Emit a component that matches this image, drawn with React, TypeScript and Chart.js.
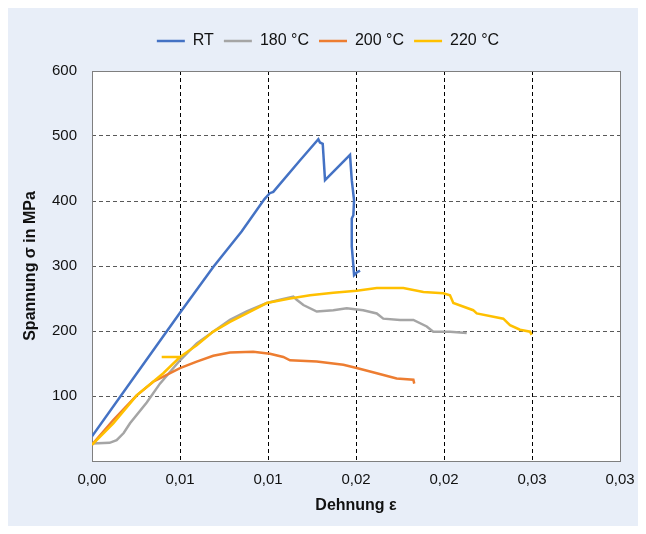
import React, { useEffect, useRef } from "react";
import { Chart, registerables } from "chart.js";

Chart.register(...registerables);

// ---- data (strain ε, stress σ in MPa) ----
const rtStrain = [0, 0.0025, 0.005, 0.0069, 0.0085, 0.0098, 0.0101, 0.0103, 0.0118, 0.01286, 0.01295, 0.01311, 0.01324, 0.01466, 0.01476, 0.01489, 0.01485, 0.01476, 0.01476, 0.01485, 0.01489, 0.01504, 0.01523];
const rtStress = [38, 133, 228, 299, 353, 403, 412, 414, 462, 495, 490, 488, 432, 471, 432, 401, 378, 373, 330, 301, 286, 290, 293];

const t180Strain = [0, 0.001, 0.0014, 0.0018, 0.00216, 0.00311, 0.00386, 0.005, 0.00595, 0.00688, 0.00784, 0.00879, 0.00993, 0.01068, 0.01144, 0.01163, 0.01201, 0.01277, 0.01371, 0.01447, 0.01541, 0.01618, 0.01655, 0.0175, 0.01826, 0.01902, 0.01939, 0.02034, 0.02129];
const t180Stress = [27, 28, 32, 43, 58, 90, 119, 155, 181, 199, 217, 230, 243, 248, 253, 248, 240, 230, 232, 235, 232, 227, 219, 217, 217, 207, 199, 199, 197];

const t200Strain = [0, 0.00121, 0.00254, 0.00348, 0.005, 0.00595, 0.00689, 0.00784, 0.00916, 0.01011, 0.01087, 0.01125, 0.01277, 0.01428, 0.01504, 0.01618, 0.01731, 0.01826, 0.01831];
const t200Stress = [25, 63, 101, 122, 143, 153, 162, 167, 168, 165, 160, 155, 153, 148, 143, 135, 127, 125, 119];

const t220StubStrain = [0.00396, 0.005];
const t220StubStress = [160, 160];
const t220Strain = [0, 0.00121, 0.00254, 0.00405, 0.005, 0.00595, 0.00689, 0.00784, 0.00879, 0.00993, 0.01125, 0.01239, 0.01371, 0.01504, 0.01618, 0.01769, 0.01883, 0.01996, 0.02034, 0.02053, 0.02166, 0.02186, 0.02337, 0.02375, 0.02432, 0.02489, 0.02498];
const t220Stress = [25, 58, 101, 135, 160, 178, 199, 214, 227, 243, 250, 255, 259, 262, 266, 266, 260, 258, 255, 243, 232, 227, 219, 209, 202, 199, 194];

const seriesLabels = ["RT", "180 °C", "200 °C", "220 °C"];
const seriesColors = ["#4472C4", "#A5A5A5", "#ED7D31", "#FFC000"];

const xTickValues = [0, 0.005, 0.01, 0.015, 0.02, 0.025, 0.03];
const xTickLabels = ["0,00", "0,01", "0,01", "0,02", "0,02", "0,03", "0,03"];
const yTickValues = [0, 100, 200, 300, 400, 500, 600];
const yTickLabels = ["", "100", "200", "300", "400", "500", "600"];

const toPoints = (xs: number[], ys: number[]) => xs.map((x, i) => ({ x, y: ys[i] }));

export default function App() {
  const ref = useRef<HTMLCanvasElement | null>(null);

  useEffect(() => {
    if (!ref.current) return;
    Chart.defaults.font.family = "'Liberation Sans', Arial, sans-serif";

    const yellowData: any[] = [
      ...toPoints(t220StubStrain, t220StubStress),
      { x: t220StubStrain[t220StubStrain.length - 1], y: null },
      ...toPoints(t220Strain, t220Stress),
    ];
    const allData = [
      toPoints(rtStrain, rtStress),
      toPoints(t180Strain, t180Stress),
      toPoints(t200Strain, t200Stress),
      yellowData,
    ];
    const orders = [4, 3, 2, 1];

    const plotBg = {
      id: "plotBg",
      beforeDraw(chart: any) {
        const { ctx, chartArea: a } = chart;
        ctx.save();
        ctx.fillStyle = "#ffffff";
        ctx.fillRect(a.left, a.top, a.right - a.left, a.bottom - a.top);
        ctx.restore();
      },
      beforeDatasetsDraw(chart: any) {
        const { ctx, chartArea: a } = chart;
        ctx.save();
        ctx.strokeStyle = "#7f7f7f";
        ctx.lineWidth = 1;
        ctx.setLineDash([]);
        ctx.strokeRect(a.left + 0.5, a.top + 0.5, a.right - a.left, a.bottom - a.top);
        ctx.restore();
      },
      afterInit(chart: any) {
        const lg = chart.legend;
        if (lg) {
          const origFit = lg.fit.bind(lg);
          lg.fit = function () {
            origFit();
            this.height = 48;
          };
          const origDraw = lg.draw.bind(lg);
          lg.draw = function () {
            const c = this.ctx;
            c.save();
            c.translate(14, 0);
            origDraw();
            c.restore();
          };
        }
      },
    };

    const edgeHidden = (color: string, last: number) => (c: any) =>
      c.index === 0 || c.index === last ? "rgba(0,0,0,0)" : color;

    const chart = new Chart(ref.current, {
      type: "line",
      data: {
        datasets: allData.map((d, i) => ({
          label: seriesLabels[i],
          data: d,
          borderColor: seriesColors[i],
          backgroundColor: seriesColors[i],
          borderWidth: 2.5,
          pointRadius: 0,
          tension: 0,
          spanGaps: false,
          order: orders[i],
        })),
      },
      options: {
        animation: false,
        responsive: true,
        maintainAspectRatio: false,
        layout: { padding: { top: 15, right: 18, bottom: 0, left: 0 } },
        plugins: {
          tooltip: { enabled: false },
          legend: {
            position: "top",
            labels: {
              usePointStyle: true,
              pointStyle: "line",
              pointStyleWidth: 28,
              boxHeight: 14,
              padding: 10,
              color: "#111111",
              font: { size: 16 },
              sort: (a: any, b: any) => a.datasetIndex - b.datasetIndex,
            },
          },
        },
        scales: {
          x: {
            type: "linear",
            min: 0,
            max: 0.03,
            afterBuildTicks: (s: any) => {
              s.ticks = xTickValues.map((v) => ({ value: v }));
            },
            afterFit: (s: any) => {
              s.height = 65;
              s.paddingRight = 0;
              s.paddingLeft = 0;
            },
            ticks: {
              padding: 10,
              color: "#111111",
              font: { size: 15 },
              maxRotation: 0,
              autoSkip: false,
              callback: (_v: any, i: number) => xTickLabels[i],
            },
            grid: {
              color: edgeHidden("#000000", xTickValues.length - 1),
              lineWidth: 1,
              drawTicks: false,
            },
            border: { display: false, dash: [4, 3] },
            title: {
              display: true,
              text: "Dehnung ε",
              color: "#111111",
              font: { size: 16, weight: "bold" },
              padding: { top: 4, bottom: 11 },
            },
          },
          y: {
            type: "linear",
            min: 0,
            max: 600,
            afterBuildTicks: (s: any) => {
              s.ticks = yTickValues.map((v) => ({ value: v }));
            },
            afterFit: (s: any) => {
              s.width = 84;
            },
            ticks: {
              padding: 15,
              color: "#111111",
              font: { size: 15 },
              callback: (_v: any, i: number) => yTickLabels[i],
            },
            grid: {
              color: edgeHidden("#595959", yTickValues.length - 1),
              lineWidth: 1,
              drawTicks: false,
            },
            border: { display: false, dash: [4, 3] },
            title: {
              display: true,
              text: "Spannung σ in MPa",
              color: "#111111",
              font: { size: 16, weight: "bold" },
              padding: { top: 13, bottom: 4 },
            },
          },
        },
      },
      plugins: [plotBg],
    });
    return () => chart.destroy();
  }, []);

  return (
    <div style={{ width: 630, height: 518, background: "#E8EEF8", position: "relative" }}>
      <canvas ref={ref} />
    </div>
  );
}
